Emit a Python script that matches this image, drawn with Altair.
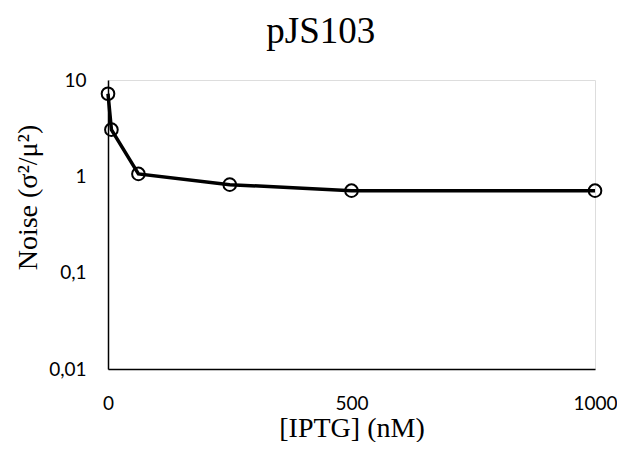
import altair as alt
import pandas as pd

iptg = [0, 7, 62.5, 250, 500, 1000]
noise = [7.2, 3.05, 1.06, 0.82, 0.71, 0.71]

df = pd.DataFrame({"iptg": iptg, "noise": noise})

x = alt.X("iptg:Q", scale=alt.Scale(domain=[0, 1000], nice=False),
          axis=alt.Axis(values=[0, 500, 1000], title="[IPTG] (nM)", grid=False, ticks=False,
                        labelExpr="format(datum.value, 'd')", labelFlush=False,
                        labelFont="Lato", labelFontSize=19, labelColor="black", labelPadding=25,
                        titleFont="Liberation Serif", titleFontSize=28, titleFontWeight="normal",
                        titleColor="black", titlePadding=1, domainColor="black", domainWidth=1.5))
y = alt.Y("noise:Q", scale=alt.Scale(type="log", domain=[0.01, 10], nice=False),
          axis=alt.Axis(values=[0.01, 0.1, 1, 10], title="Noise (σ²/μ²)", grid=False, ticks=False,
                        labelExpr="replace(format(datum.value, '~g'), '.', ',')", labelFlush=False,
                        labelFont="Lato", labelFontSize=19, labelColor="black", labelPadding=22,
                        titleFont="Liberation Serif", titleFontSize=28, titleFontWeight="normal",
                        titleColor="black", titlePadding=6, titleY=117,
                        domainColor="black", domainWidth=1.5))

line = alt.Chart(df).mark_line(color="black", strokeWidth=3.5).encode(x=x, y=y)
pts = alt.Chart(df).mark_point(shape="circle", filled=False, color="black", size=160,
                               strokeWidth=2, opacity=1).encode(x=x, y=y)

chart = alt.layer(line, pts).properties(
    width=487, height=289,
    title=alt.Title("pJS103", font="Liberation Serif", fontSize=37, fontWeight="normal",
                    color="black", offset=20, anchor="middle", frame="bounds", dx=5),
    autosize=alt.AutoSizeParams(type="none"),
    padding={"left": 100, "top": 72, "right": 22, "bottom": 73},
).configure_view(stroke=None).configure(background="white")

chart.save("out.html", embed_options={"renderer": "svg", "actions": False})
